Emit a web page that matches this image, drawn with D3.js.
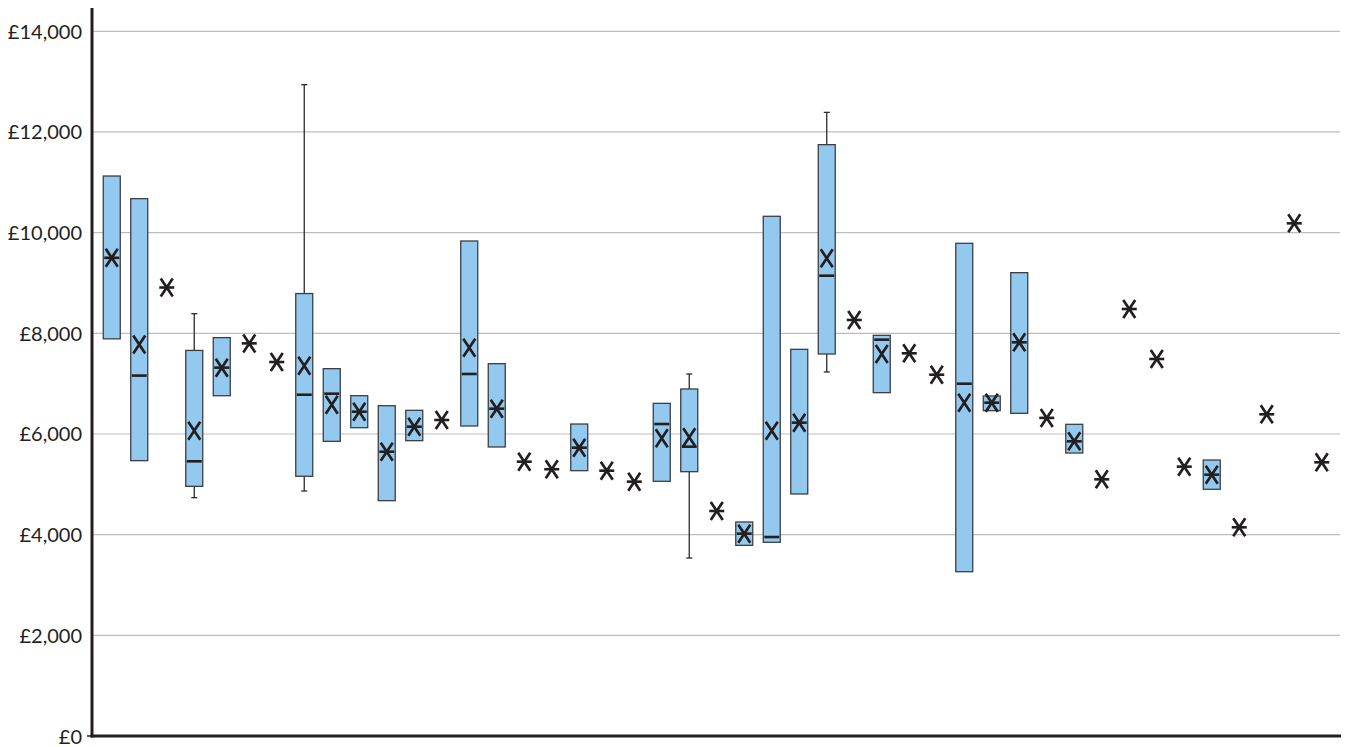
<!DOCTYPE html>
<html>
<head>
<meta charset="utf-8">
<script src="https://cdn.jsdelivr.net/npm/d3@7"></script>
<style>
  html, body { margin: 0; padding: 0; background: #fff; }
  svg { display: block; }
  .tick-label { font-family: Lato, "Noto Sans", sans-serif; font-size: 20px; fill: #231f20; }
</style>
</head>
<body>
<svg id="chart" width="1349" height="747"></svg>
<script>
// ---- Data ----
const categories = d3.range(1, 46).map(String);
const q1 =      [7890, 5470, 8910, 4960, 6760, 7800, 7430, 5160, 5854, 6125, 4675, 5867, 6278, 6159, 5742, 5450, 5300, 5271, 5271, 5053, 5060, 5251, 4470, 3788, 3848, 4808, 7589, 8265, 6821, 7603, 7178, 3264, 6463, 6411, 6320, 5622, 5099, 8483, 7490, 5351, 4901, 4146, 6391, 10185, 5437];
const q3 =      [11125, 10675, 8910, 7660, 7914, 7800, 7430, 8790, 7298, 6761, 6562, 6470, 6278, 9834, 7397, 5450, 5300, 6198, 5271, 5053, 6609, 6894, 4470, 4252, 10325, 7682, 11748, 8265, 7960, 7603, 7178, 9788, 6755, 9205, 6320, 6192, 5099, 8483, 7490, 5351, 5483, 4146, 6391, 10185, 5437];
const medians = [9500, 7160, 8910, 5457, 7318, 7800, 7430, 6780, 6801, 6443, 5648, 6145, 6278, 7192, 6503, 5450, 5300, 5728, 5271, 5053, 6198, 5748, 4470, 4020, 3953, 6225, 9145, 8265, 7874, 7603, 7178, 6999, 6622, 7821, 6320, 5854, 5099, 8483, 7490, 5351, 5192, 4146, 6391, 10185, 5437];
const means =   [9500, 7780, 8910, 6066, 7318, 7800, 7430, 7357, 6582, 6443, 5648, 6145, 6278, 7715, 6503, 5450, 5300, 5728, 5271, 5053, 5914, 5934, 4470, 4020, 6066, 6225, 9490, 8265, 7589, 7603, 7178, 6622, 6622, 7821, 6320, 5854, 5099, 8483, 7490, 5351, 5192, 4146, 6391, 10185, 5437];
const whiskerLow  = [null, null, null, 4735, null, null, null, 4867, null, null, null, null, null, null, null, null, null, null, null, null, null, 3536, null, null, null, null, 7232, null, null, null, null, null, null, null, null, null, null, null, null, null, null, null, null, null, null];
const whiskerHigh = [null, null, null, 8390, null, null, null, 12940, null, null, null, null, null, null, null, null, null, null, null, null, null, 7192, null, null, null, null, 12390, null, null, null, null, null, null, null, null, null, null, null, null, null, null, null, null, null, null];
const yTicks = [0, 2000, 4000, 6000, 8000, 10000, 12000, 14000];

const rows = categories.map((c, i) => ({
  c, q1: q1[i], q3: q3[i], median: medians[i], mean: means[i],
  lo: whiskerLow[i], hi: whiskerHigh[i]
}));

// ---- Layout ----
const svg = d3.select("#chart");
const axisX = 92, axisY = 736, plotRight = 1341;

const y = d3.scaleLinear().domain([0, 14000]).range([736, 31.3]);
const x = d3.scaleBand().domain(categories).range([98, 1335.5]).padding(0);
const bw = x.bandwidth();
const boxW = 17;
const cx = d => x(d.c) + bw / 2;
const fmt = v => "£" + d3.format(",")(v);

// gridlines
svg.append("g").selectAll("line").data(yTicks.filter(t => t > 0)).join("line")
  .attr("x1", axisX).attr("x2", 1340)
  .attr("y1", d => y(d)).attr("y2", d => y(d))
  .attr("stroke", "#bdbdbd").attr("stroke-width", 1.2);

// y axis via d3.axisLeft (labels only)
const yAxis = d3.axisLeft(y).tickValues(yTicks).tickFormat(fmt).tickSize(0).tickPadding(10);
const gy = svg.append("g").attr("transform", `translate(${axisX},0)`).call(yAxis);
gy.select(".domain").remove();
gy.selectAll("text").attr("class", "tick-label").attr("dy", "0.35em");
gy.attr("font-size", null).attr("font-family", null);

// whiskers
const wg = svg.append("g").attr("stroke", "#2b2b2b").attr("stroke-width", 1.3);
rows.filter(d => d.hi != null).forEach(d => {
  wg.append("line").attr("x1", cx(d)).attr("x2", cx(d)).attr("y1", y(d.q3)).attr("y2", y(d.hi));
  wg.append("line").attr("x1", cx(d) - 3).attr("x2", cx(d) + 3).attr("y1", y(d.hi)).attr("y2", y(d.hi));
});
rows.filter(d => d.lo != null).forEach(d => {
  wg.append("line").attr("x1", cx(d)).attr("x2", cx(d)).attr("y1", y(d.q1)).attr("y2", y(d.lo));
  wg.append("line").attr("x1", cx(d) - 3).attr("x2", cx(d) + 3).attr("y1", y(d.lo)).attr("y2", y(d.lo));
});

// boxes
svg.append("g").selectAll("rect").data(rows.filter(d => d.q3 > d.q1)).join("rect")
  .attr("x", d => cx(d) - boxW / 2).attr("width", boxW)
  .attr("y", d => y(d.q3)).attr("height", d => y(d.q1) - y(d.q3))
  .attr("fill", "#93c9ee").attr("stroke", "#3a3f44").attr("stroke-width", 1.3);

// medians
svg.append("g").selectAll("line").data(rows).join("line")
  .attr("x1", d => cx(d) - 7.5).attr("x2", d => cx(d) + 7.5)
  .attr("y1", d => y(d.median)).attr("y2", d => y(d.median))
  .attr("stroke", "#231f20").attr("stroke-width", 2.6);

// mean markers (X)
const mg = svg.append("g").attr("stroke", "#231f20").attr("stroke-width", 2.7).attr("fill", "none");
mg.selectAll("path").data(rows).join("path")
  .attr("d", d => {
    const px = cx(d), py = y(d.mean), hw = 6, hh = 9;
    return `M${px - hw},${py - hh}L${px + hw},${py + hh}M${px + hw},${py - hh}L${px - hw},${py + hh}`;
  });

// axes lines
svg.append("line").attr("x1", axisX).attr("x2", axisX).attr("y1", 8).attr("y2", axisY + 1.5)
  .attr("stroke", "#231f20").attr("stroke-width", 3);
svg.append("line").attr("x1", axisX - 1.5).attr("x2", plotRight).attr("y1", axisY).attr("y2", axisY)
  .attr("stroke", "#231f20").attr("stroke-width", 3);
svg.append("line").attr("x1", axisX - 5).attr("x2", axisX).attr("y1", axisY).attr("y2", axisY)
  .attr("stroke", "#231f20").attr("stroke-width", 1.5);
</script>
</body>
</html>
